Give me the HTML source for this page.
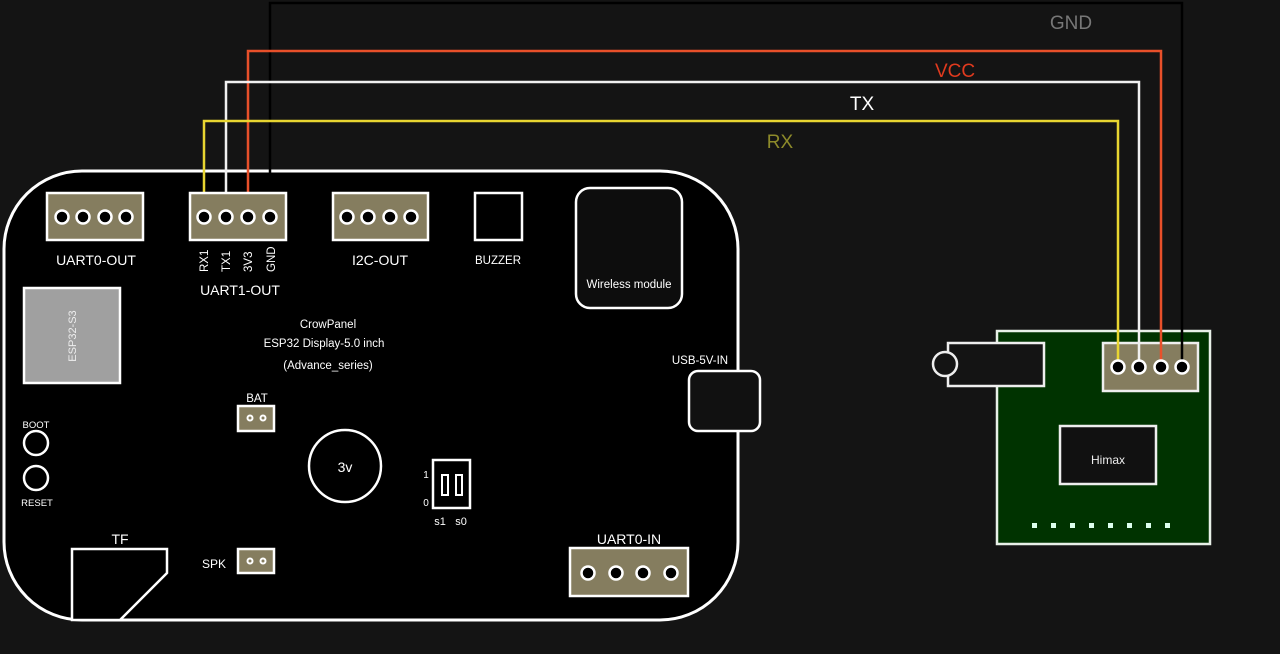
<!DOCTYPE html>
<html><head><meta charset="utf-8"><style>
html,body{margin:0;padding:0;background:#141414;}
svg{display:block;font-family:"Liberation Sans",sans-serif;}
</style></head><body>
<svg width="1280" height="654" viewBox="0 0 1280 654" xmlns="http://www.w3.org/2000/svg">
<rect width="1280" height="654" fill="#141414"/>
<rect x="4" y="171" width="734" height="449" rx="78" fill="#000" stroke="#fff" stroke-width="3"/>
<rect x="997" y="331" width="213" height="213" fill="#003300" stroke="#e8f0e8" stroke-width="2.5"/>
<rect x="948" y="343" width="96" height="43" fill="#141414" stroke="#eee" stroke-width="2.5"/>
<circle cx="945" cy="364" r="12" fill="#141414" stroke="#eee" stroke-width="2.5"/>
<rect x="1103" y="343" width="95" height="48" fill="#857d5f" stroke="#eee" stroke-width="2.5"/>
<rect x="1060" y="426" width="96" height="58" fill="#111" stroke="#eee" stroke-width="2.5"/>
<text x="1108" y="464" fill="#eee" font-size="12" text-anchor="middle">Himax</text>
<g fill="#dfe">
<rect x="1032" y="523" width="5" height="5"/><rect x="1051" y="523" width="5" height="5"/><rect x="1070" y="523" width="5" height="5"/><rect x="1089" y="523" width="5" height="5"/><rect x="1108" y="523" width="5" height="5"/><rect x="1127" y="523" width="5" height="5"/><rect x="1146" y="523" width="5" height="5"/><rect x="1165" y="523" width="5" height="5"/>
</g>
<g fill="none" stroke-width="2.5">
<polyline points="270,217 270,3 1182,3 1182,367" stroke="#000"/>
<polyline points="248,217 248,51 1161,51 1161,367" stroke="#e8502a"/>
<polyline points="226,217 226,82 1139,82 1139,367" stroke="#f0f0f0"/>
<polyline points="204,217 204,121 1118,121 1118,367" stroke="#e8d531"/>
</g>
<text x="1071" y="29" fill="#777" font-size="19" text-anchor="middle">GND</text>
<text x="955" y="77" fill="#e03a1e" font-size="19" text-anchor="middle">VCC</text>
<text x="862" y="110" fill="#fff" font-size="19" text-anchor="middle">TX</text>
<text x="780" y="148" fill="#8d8a2a" font-size="19" text-anchor="middle">RX</text>
<g fill="#857d5f" stroke="#fff" stroke-width="2.5">
<rect x="47" y="193" width="96" height="47"/>
<rect x="190" y="193" width="96" height="47"/>
<rect x="333" y="193" width="95" height="47"/>
<rect x="570" y="548" width="118" height="48"/>
<rect x="238" y="406" width="36" height="25"/>
<rect x="238" y="549" width="36" height="24"/>
</g>
<g fill="#000" stroke="#fff" stroke-width="2.5">
<circle cx="62" cy="217" r="6.5"/><circle cx="83" cy="217" r="6.5"/><circle cx="105" cy="217" r="6.5"/><circle cx="126" cy="217" r="6.5"/>
<circle cx="204" cy="217" r="6.5"/><circle cx="226" cy="217" r="6.5"/><circle cx="248" cy="217" r="6.5"/><circle cx="270" cy="217" r="6.5"/>
<circle cx="347" cy="217" r="6.5"/><circle cx="368" cy="217" r="6.5"/><circle cx="390" cy="217" r="6.5"/><circle cx="411" cy="217" r="6.5"/>
<circle cx="588" cy="573" r="6.5"/><circle cx="616" cy="573" r="6.5"/><circle cx="643" cy="573" r="6.5"/><circle cx="671" cy="573" r="6.5"/>
<circle cx="1118" cy="367" r="6.5"/><circle cx="1139" cy="367" r="6.5"/><circle cx="1161" cy="367" r="6.5"/><circle cx="1182" cy="367" r="6.5"/>
</g>
<g fill="#fff"><circle cx="250" cy="418" r="3.5"/><circle cx="263" cy="418" r="3.5"/><circle cx="250" cy="561" r="3.5"/><circle cx="263" cy="561" r="3.5"/></g>
<g fill="#857d5f"><circle cx="250" cy="418" r="1.5"/><circle cx="263" cy="418" r="1.5"/><circle cx="250" cy="561" r="1.5"/><circle cx="263" cy="561" r="1.5"/></g>
<rect x="475" y="193" width="47" height="47" fill="#000" stroke="#fff" stroke-width="2.5"/>
<rect x="576" y="188" width="106" height="120" rx="14" fill="#0d0d0d" stroke="#fff" stroke-width="2.5"/>
<text x="629" y="288" fill="#fff" font-size="11.5" text-anchor="middle">Wireless module</text>
<rect x="24" y="288" width="96" height="95" fill="#a0a0a0" stroke="#fff" stroke-width="2.5"/>
<text transform="translate(72,336) rotate(-90)" fill="#eee" font-size="11" text-anchor="middle" dy="4">ESP32-S3</text>
<rect x="689" y="371" width="71" height="60" rx="9" fill="#111" stroke="#fff" stroke-width="2.5"/>
<circle cx="36" cy="443" r="12" fill="#000" stroke="#fff" stroke-width="2.5"/>
<circle cx="36" cy="478" r="12" fill="#000" stroke="#fff" stroke-width="2.5"/>
<circle cx="345" cy="466" r="36" fill="#000" stroke="#fff" stroke-width="2.5"/>
<rect x="433" y="460" width="37" height="48" fill="#000" stroke="#fff" stroke-width="2.5"/>
<rect x="442" y="475" width="6" height="20" fill="#000" stroke="#fff" stroke-width="2"/>
<rect x="456" y="475" width="6" height="20" fill="#000" stroke="#fff" stroke-width="2"/>
<polygon points="72,549 167,549 167,573 120,620 72,620" fill="#000" stroke="#fff" stroke-width="2.5"/>
<g fill="#fff" text-anchor="middle">
<text x="96" y="265" font-size="14">UART0-OUT</text>
<text x="240" y="295" font-size="14">UART1-OUT</text>
<text x="380" y="265" font-size="14">I2C-OUT</text>
<text x="498" y="264" font-size="11.5">BUZZER</text>
<text x="328" y="328" font-size="11.5">CrowPanel</text>
<text x="324" y="347" font-size="11.5">ESP32 Display-5.0 inch</text>
<text x="328" y="369" font-size="11.5">(Advance_series)</text>
<text x="700" y="364" font-size="11.5">USB-5V-IN</text>
<text x="257" y="402" font-size="11.5">BAT</text>
<text x="36" y="428" font-size="9.5">BOOT</text>
<text x="37" y="506" font-size="9.5">RESET</text>
<text x="345" y="472" font-size="14">3v</text>
<text x="426" y="478" font-size="10">1</text>
<text x="426" y="506" font-size="10">0</text>
<text x="440" y="525" font-size="11">s1</text>
<text x="461" y="525" font-size="11">s0</text>
<text x="120" y="544" font-size="14">TF</text>
<text x="214" y="568" font-size="12">SPK</text>
<text x="629" y="544" font-size="14">UART0-IN</text>
</g>
<g fill="#fff" font-size="11.5">
<text transform="translate(208,272) rotate(-90)">RX1</text>
<text transform="translate(230,272) rotate(-90)">TX1</text>
<text transform="translate(252,272) rotate(-90)">3V3</text>
<text transform="translate(275,272) rotate(-90)">GND</text>
</g>
</svg>
</body></html>
